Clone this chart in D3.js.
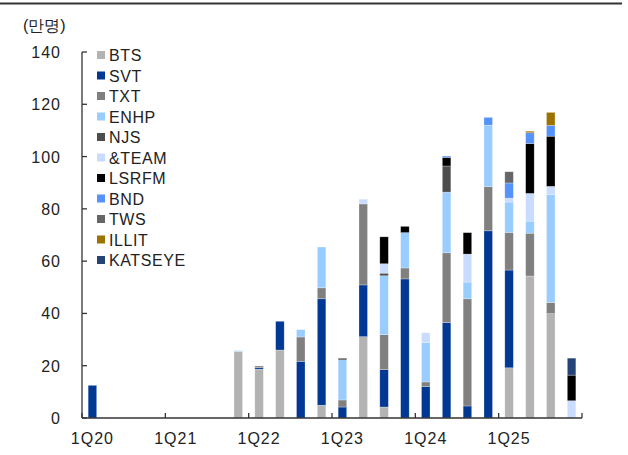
<!DOCTYPE html>
<html><head><meta charset="utf-8">
<script src="https://cdn.jsdelivr.net/npm/d3@7/dist/d3.min.js"></script>
<style>
html,body{margin:0;padding:0;background:#fff;}
svg{display:block;}
text{font-family:"Liberation Sans",Arial,sans-serif;fill:#222;}
</style></head>
<body>
<script>
const categories = ["1Q20","2Q20","3Q20","4Q20","1Q21","2Q21","3Q21","4Q21",
  "1Q22","2Q22","3Q22","4Q22","1Q23","2Q23","3Q23","4Q23",
  "1Q24","2Q24","3Q24","4Q24","1Q25","2Q25","3Q25","4Q25"];
const xTickLabels = ["1Q20","1Q21","1Q22","1Q23","1Q24","1Q25"];
const yTicks = [0,20,40,60,80,100,120,140];
const seriesNames = ["BTS","SVT","TXT","ENHP","NJS","&TEAM","LSRFM","BND","TWS","ILLIT","KATSEYE"];
const seriesColors = ["#b3b3b3","#003893","#808080","#99ccff","#4d4d4d","#c9dcff","#000000","#5592fa","#666666","#9c7300","#244478"];
//           1Q20 2Q20 3Q20 4Q20 1Q21 2Q21 3Q21 4Q21 1Q22 2Q22 3Q22 4Q22 1Q23 2Q23 3Q23 4Q23 1Q24 2Q24 3Q24 4Q24 1Q25 2Q25 3Q25 4Q25
const BTS     = [0,0,0,0,0,0,0,25.5,18.7,26,0,4.9,0,31.1,4.2,0,0,0,0,0,19.2,54.3,39.9,0];
const SVT     = [12.5,0,0,0,0,0,0,0,0.6,11,21.7,40.7,4.2,19.8,14.3,53.2,12,36.5,4.6,71.6,37.4,0,0,0];
const TXT     = [0,0,0,0,0,0,0,0,0.6,0,9.3,4.2,2.7,31,13.4,4.2,1.8,26.7,41,16.9,14.4,16.4,4.3,0];
const ENHP    = [0,0,0,0,0,0,0,0.3,0,0,2.8,15.6,15.4,0,22.5,13.5,15,23.2,6.4,23.5,11.6,4.6,41.3,0];
const NJS     = [0,0,0,0,0,0,0,0,0,0,0,0,0,0,1,0,0,10,0,0,0,0,0,0];
const ANDTEAM = [0,0,0,0,0,0,0,0,0,0,0,0,0,1.8,3.6,0,3.8,0,10.7,0,1.5,10.6,3.1,6.6];
const LSRFM   = [0,0,0,0,0,0,0,0,0,0,0,0,0.5,0,10.3,2.4,0,3.3,8.2,0,0,19.1,19.2,9.8];
const BND     = [0,0,0,0,0,0,0,0,0,0,0,0,0,0,0,0,0,0.5,0,3,5.8,4.1,4.1,0];
const TWS     = [0,0,0,0,0,0,0,0,0,0,0,0,0,0,0,0,0,0,0,0,4.3,0,0,0];
const ILLIT   = [0,0,0,0,0,0,0,0,0,0,0,0,0,0,0,0,0,0,0,0,0,0.6,5,0];
const KATSEYE = [0,0,0,0,0,0,0,0,0,0,0,0,0,0,0,0,0,0,0,0,0,0,0,6.5];
const seriesValues = [BTS,SVT,TXT,ENHP,NJS,ANDTEAM,LSRFM,BND,TWS,ILLIT,KATSEYE];

(function(){
const W = 628, H = 455;
const svg = d3.select("body").append("svg").attr("width", W).attr("height", H);

// top rule
svg.append("line").attr("x1",0).attr("x2",622).attr("y1",3.5).attr("y2",3.5)
  .attr("stroke","#333").attr("stroke-width",2);

const pL = 82, pR = 582, pT = 52, pB = 418;
const x = d3.scaleBand().domain(categories).range([pL, pR]).padding(0);
const y = d3.scaleLinear().domain([0, 140]).range([pB, pT]);

const table = categories.map((c, i) => {
  const o = {cat: c};
  seriesNames.forEach((s, k) => o[s] = seriesValues[k][i]);
  return o;
});
const stacked = d3.stack().keys(seriesNames)(table);
const barW = x.step() * 0.41;

svg.append("g").selectAll("g").data(stacked).join("g")
  .attr("fill", (d, k) => seriesColors[k])
  .selectAll("rect").data(d => d.filter(p => p[1] - p[0] > 0)).join("rect")
  .attr("x", p => x(p.data.cat) + (x.step() - barW) / 2)
  .attr("width", barW)
  .attr("y", p => y(p[1]))
  .attr("height", p => y(p[0]) - y(p[1]))
  .attr("stroke", "rgba(255,255,255,0.45)").attr("stroke-width", 0.6);

// y axis
const gy = svg.append("g");
gy.append("line").attr("x1", pL).attr("x2", pL).attr("y1", y(140)).attr("y2", y(0))
  .attr("stroke", "#333").attr("stroke-width", 1.3);
gy.selectAll("line.t").data(yTicks).join("line").attr("class","t")
  .attr("x1", pL).attr("x2", pL + 5).attr("y1", d => y(d)).attr("y2", d => y(d))
  .attr("stroke", "#333").attr("stroke-width", 1.3);
gy.selectAll("text").data(yTicks).join("text")
  .attr("x", 61).attr("y", d => y(d) + 6)
  .attr("text-anchor", "end").attr("font-size", 16).attr("letter-spacing", 1)
  .text(d => d);

// x axis
const gx = svg.append("g");
gx.append("line").attr("x1", pL).attr("x2", pR).attr("y1", pB).attr("y2", pB)
  .attr("stroke", "#333").attr("stroke-width", 1.3);
const boundaries = categories.filter((c, i) => i % 4 === 0).map(c => x(c)).concat([pR]);
gx.selectAll("line.t").data(boundaries).join("line").attr("class","t")
  .attr("x1", d => d).attr("x2", d => d).attr("y1", pB).attr("y2", pB - 5)
  .attr("stroke", "#333").attr("stroke-width", 1.3);
gx.selectAll("text").data(xTickLabels).join("text")
  .attr("x", d => x(d) + x.step() / 2).attr("y", 444)
  .attr("text-anchor", "middle").attr("font-size", 16).attr("letter-spacing", 1)
  .text(d => d);

// unit label
svg.append("text").attr("x", 23).attr("y", 31)
  .attr("font-family", "'Noto Sans CJK KR','Noto Sans',sans-serif")
  .attr("font-size", 16).text("(만명)");

// legend
const lg = svg.append("g");
seriesNames.forEach((s, k) => {
  const cy = 55 + k * 20.5;
  lg.append("rect").attr("x", 97).attr("y", cy - 4).attr("width", 8).attr("height", 8)
    .attr("fill", seriesColors[k]);
  lg.append("text").attr("x", 109).attr("y", cy + 6)
    .attr("font-size", 16).attr("letter-spacing", 0.6).text(s);
});
})();
</script>
</body></html>
